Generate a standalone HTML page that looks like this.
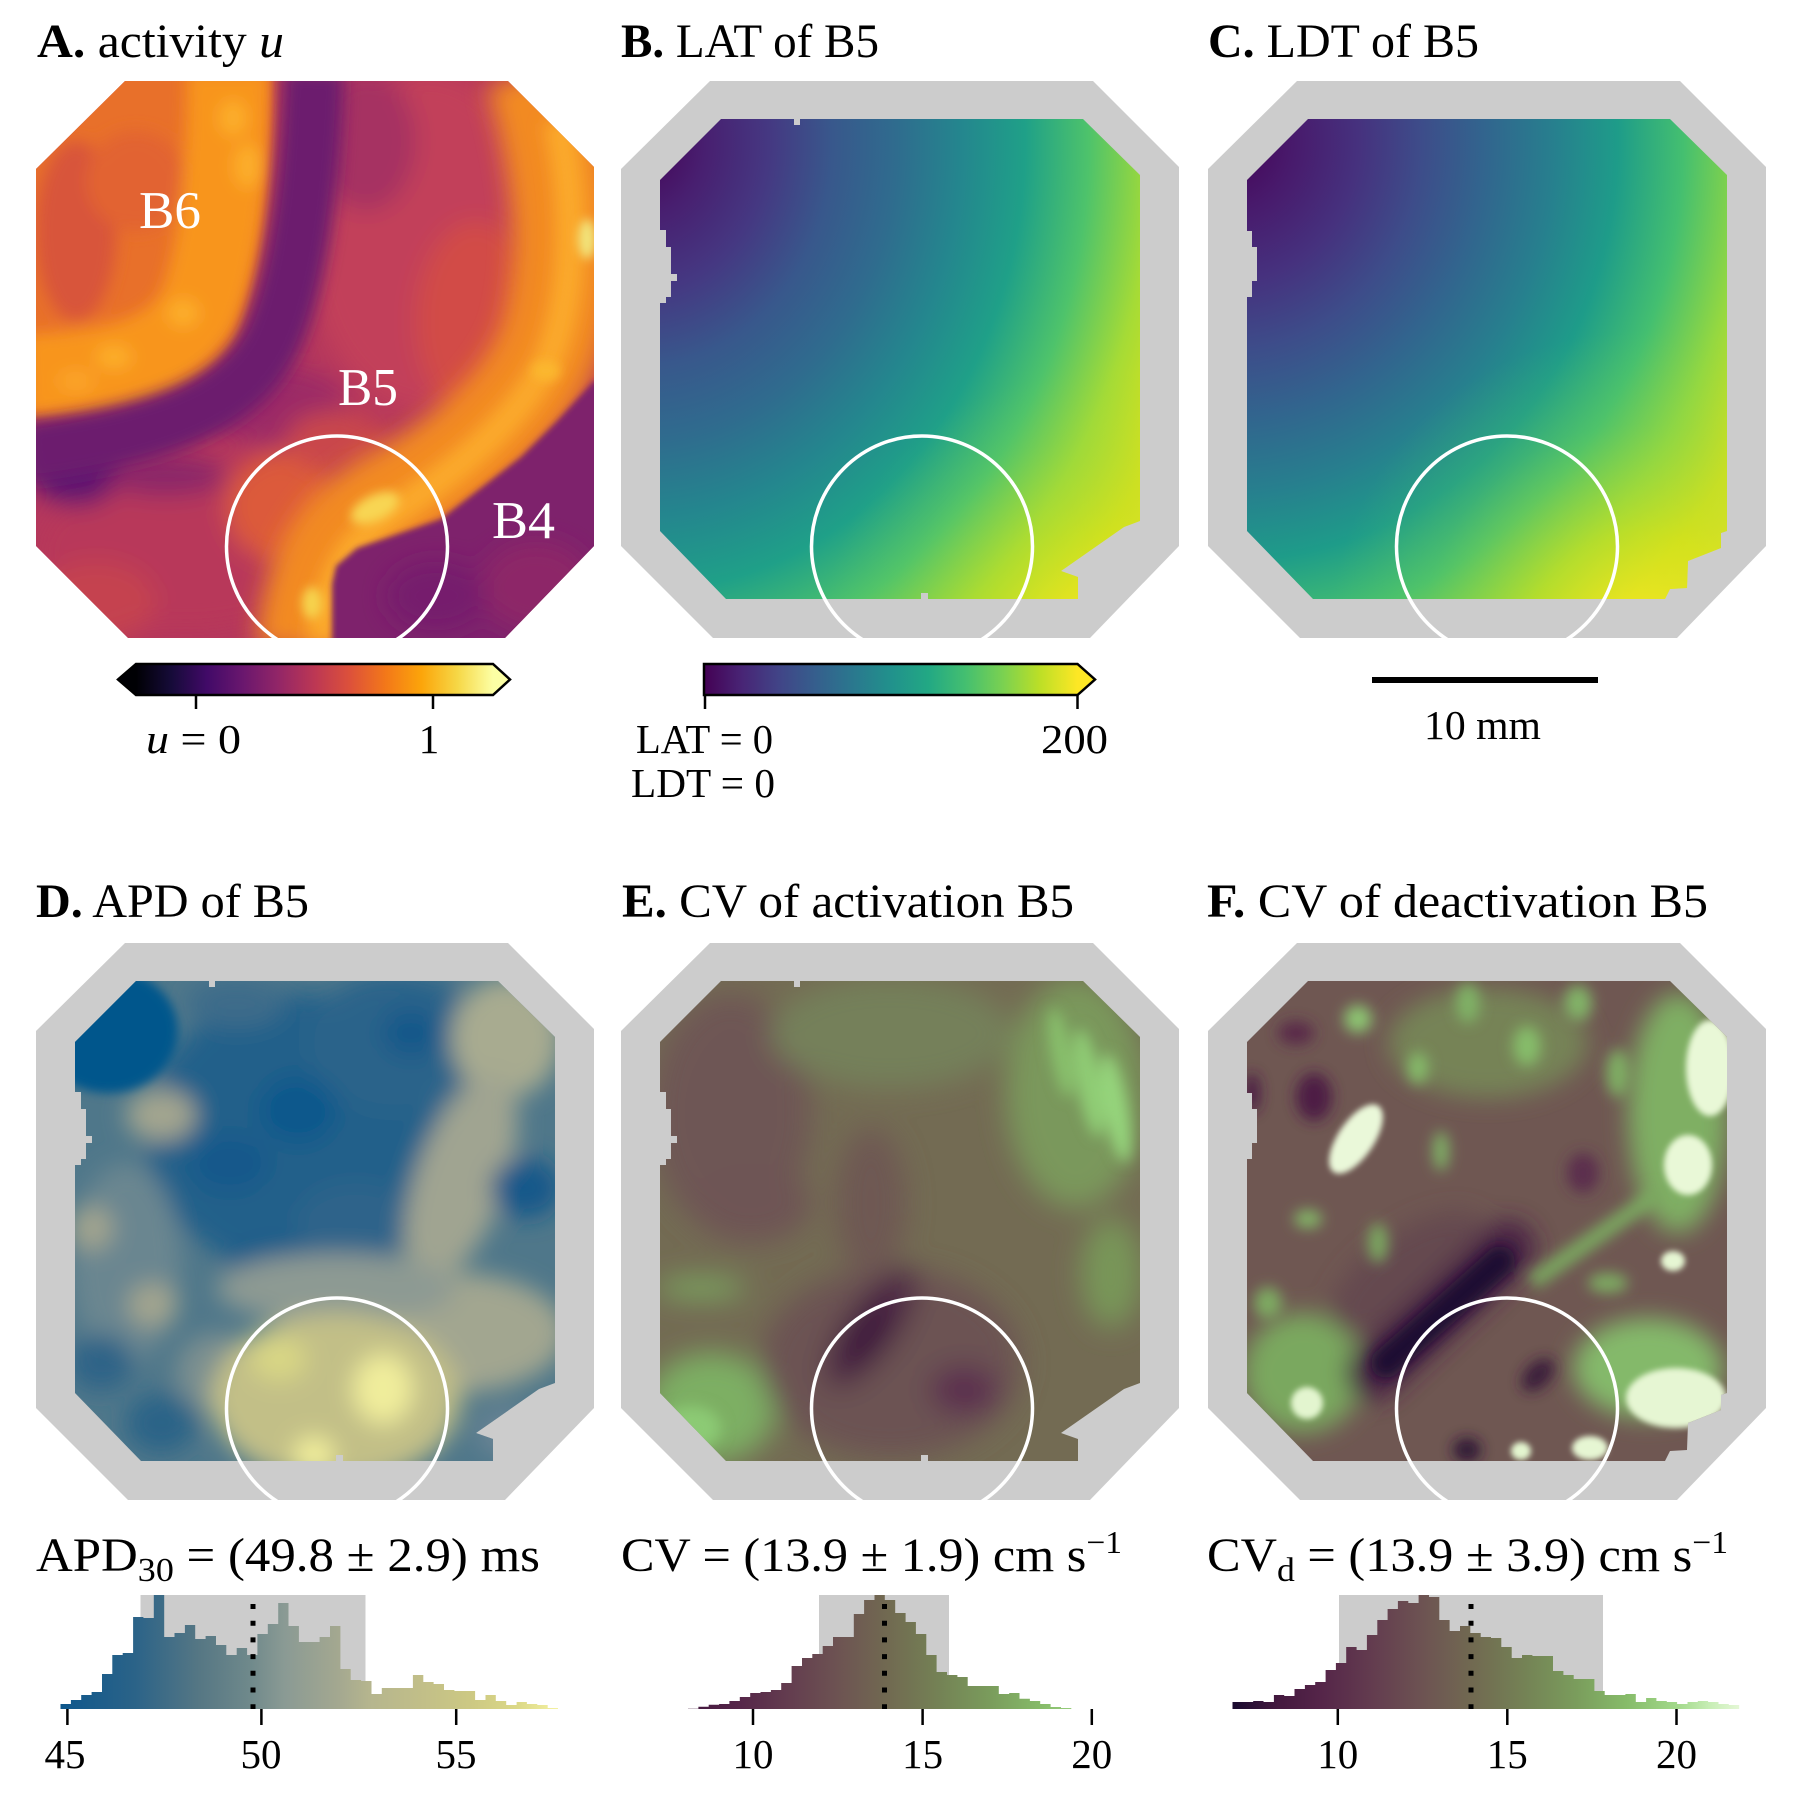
<!DOCTYPE html>
<html><head><meta charset="utf-8">
<style>html,body{margin:0;padding:0;background:#fff;}svg{display:block}</style>
</head><body>
<svg xmlns="http://www.w3.org/2000/svg" width="1800" height="1800" viewBox="0 0 1800 1800" font-family="'Liberation Serif', 'DejaVu Serif', serif">
<rect width="1800" height="1800" fill="#fff"/>
<defs>
<clipPath id="oct"><polygon points="89,0 472,0 558,86 558,465 469,557 92,557 0,465 0,88"/></clipPath>
<clipPath id="mB"><polygon points="100,38 173,38 173,44 179,44 179,38 462,38 519,94 519,440 503,446 440,490 457,496 457,518 307,518 307,512 300,512 300,518 105,518 39,450 39,222 45,222 45,216 50,216 50,200 56,200 56,193 50,193 50,166 45,166 45,149 39,149 39,99"/></clipPath>
<clipPath id="mC"><polygon points="100,38 462,38 519,94 519,450 513,452 513,467 480,480 479,507 462,508 457,518 105,518 39,450 39,216 44,216 44,200 49,200 49,166 44,166 44,150 39,150 39,99"/></clipPath>
<clipPath id="pr"><rect x="0" y="0" width="558" height="557"/></clipPath>
<filter id="f3" filterUnits="userSpaceOnUse" x="-80" y="-80" width="720" height="720"><feGaussianBlur stdDeviation="3"/></filter>
<filter id="f5" filterUnits="userSpaceOnUse" x="-80" y="-80" width="720" height="720"><feGaussianBlur stdDeviation="5"/></filter>
<filter id="f7" filterUnits="userSpaceOnUse" x="-80" y="-80" width="720" height="720"><feGaussianBlur stdDeviation="7"/></filter>
<filter id="f8" filterUnits="userSpaceOnUse" x="-80" y="-80" width="720" height="720"><feGaussianBlur stdDeviation="8"/></filter>
<filter id="f12" filterUnits="userSpaceOnUse" x="-80" y="-80" width="720" height="720"><feGaussianBlur stdDeviation="12"/></filter>
<filter id="f14" filterUnits="userSpaceOnUse" x="-80" y="-80" width="720" height="720"><feGaussianBlur stdDeviation="14"/></filter>
<radialGradient id="gB" gradientUnits="userSpaceOnUse" cx="0" cy="0" r="1" gradientTransform="translate(20 60) scale(640 750)">
<stop offset="0" stop-color="#440154"/><stop offset="0.1" stop-color="#481f70"/><stop offset="0.2" stop-color="#453882"/><stop offset="0.3" stop-color="#38588c"/><stop offset="0.4" stop-color="#2f6c8e"/><stop offset="0.5" stop-color="#24868e"/><stop offset="0.6" stop-color="#1fa088"/><stop offset="0.7" stop-color="#4ec36b"/><stop offset="0.8" stop-color="#a5db36"/><stop offset="0.9" stop-color="#dfe318"/><stop offset="1" stop-color="#fde725"/>
</radialGradient>
<radialGradient id="oB" gradientUnits="userSpaceOnUse" cx="470" cy="560" r="270">
<stop offset="0" stop-color="#fde725" stop-opacity="0.75"/><stop offset="0.4" stop-color="#bddf26" stop-opacity="0.42"/><stop offset="0.75" stop-color="#7ad151" stop-opacity="0.12"/><stop offset="1" stop-color="#7ad151" stop-opacity="0"/>
</radialGradient>
<radialGradient id="gC" gradientUnits="userSpaceOnUse" cx="0" cy="0" r="1" gradientTransform="translate(20 60) scale(650 700)">
<stop offset="0" stop-color="#440154"/><stop offset="0.1" stop-color="#481a6c"/><stop offset="0.2" stop-color="#46317e"/><stop offset="0.3" stop-color="#3d4d8a"/><stop offset="0.4" stop-color="#31668e"/><stop offset="0.5" stop-color="#277f8e"/><stop offset="0.6" stop-color="#1e9c89"/><stop offset="0.7" stop-color="#44bf70"/><stop offset="0.8" stop-color="#95d840"/><stop offset="0.9" stop-color="#dfe318"/><stop offset="1" stop-color="#fde725"/>
</radialGradient>
<radialGradient id="oC" gradientUnits="userSpaceOnUse" cx="430" cy="560" r="310">
<stop offset="0" stop-color="#fde725" stop-opacity="0.88"/><stop offset="0.35" stop-color="#c8e020" stop-opacity="0.58"/><stop offset="0.7" stop-color="#7ad151" stop-opacity="0.2"/><stop offset="1" stop-color="#7ad151" stop-opacity="0"/>
</radialGradient>
<linearGradient id="inf" gradientUnits="userSpaceOnUse" x1="136" y1="0" x2="493" y2="0">
<stop offset="0" stop-color="#000004"/><stop offset="0.1" stop-color="#160b39"/><stop offset="0.2" stop-color="#420a68"/><stop offset="0.3" stop-color="#6a176e"/><stop offset="0.4" stop-color="#932667"/><stop offset="0.5" stop-color="#bc3754"/><stop offset="0.6" stop-color="#dd513a"/><stop offset="0.7" stop-color="#f37819"/><stop offset="0.8" stop-color="#fca50a"/><stop offset="0.9" stop-color="#f6d746"/><stop offset="1" stop-color="#fcffa4"/>
</linearGradient>
<linearGradient id="vir" gradientUnits="userSpaceOnUse" x1="704" y1="0" x2="1077.5" y2="0">
<stop offset="0" stop-color="#440154"/><stop offset="0.1" stop-color="#482475"/><stop offset="0.2" stop-color="#414487"/><stop offset="0.3" stop-color="#355f8d"/><stop offset="0.4" stop-color="#2a788e"/><stop offset="0.5" stop-color="#21918c"/><stop offset="0.6" stop-color="#22a884"/><stop offset="0.7" stop-color="#44bf70"/><stop offset="0.8" stop-color="#7ad151"/><stop offset="0.9" stop-color="#bddf26"/><stop offset="1" stop-color="#fde725"/>
</linearGradient>
<linearGradient id="hA" gradientUnits="userSpaceOnUse" x1="60.5" y1="0" x2="558" y2="0">
<stop offset="0" stop-color="#0e578c"/><stop offset="0.15" stop-color="#2b6388"/><stop offset="0.28" stop-color="#567784"/><stop offset="0.38" stop-color="#6f898b"/><stop offset="0.45" stop-color="#8a9a94"/><stop offset="0.56" stop-color="#a4a890"/><stop offset="0.62" stop-color="#b5b58e"/><stop offset="0.73" stop-color="#c2bf88"/><stop offset="0.83" stop-color="#cdc983"/><stop offset="0.92" stop-color="#dcd987"/><stop offset="1" stop-color="#f4f1a2"/>
</linearGradient>
<linearGradient id="hE" gradientUnits="userSpaceOnUse" x1="651.4" y1="0" x2="1159.6" y2="0">
<stop offset="0" stop-color="#1c0b30"/><stop offset="0.083" stop-color="#44193f"/><stop offset="0.167" stop-color="#552549"/><stop offset="0.267" stop-color="#633c4f"/><stop offset="0.367" stop-color="#6d5352"/><stop offset="0.467" stop-color="#716a51"/><stop offset="0.567" stop-color="#748255"/><stop offset="0.667" stop-color="#7a9c5c"/><stop offset="0.767" stop-color="#86bb69"/><stop offset="0.867" stop-color="#a2d98a"/><stop offset="0.933" stop-color="#c8eeb6"/><stop offset="1" stop-color="#eaf9dc"/>
</linearGradient>
<linearGradient id="hF" gradientUnits="userSpaceOnUse" x1="1236.1" y1="0" x2="1744.6" y2="0">
<stop offset="0" stop-color="#1c0b30"/><stop offset="0.083" stop-color="#44193f"/><stop offset="0.167" stop-color="#552549"/><stop offset="0.267" stop-color="#633c4f"/><stop offset="0.367" stop-color="#6d5352"/><stop offset="0.467" stop-color="#716a51"/><stop offset="0.567" stop-color="#748255"/><stop offset="0.667" stop-color="#7a9c5c"/><stop offset="0.767" stop-color="#86bb69"/><stop offset="0.867" stop-color="#a2d98a"/><stop offset="0.933" stop-color="#c8eeb6"/><stop offset="1" stop-color="#eaf9dc"/>
</linearGradient>
</defs>

<!-- Titles -->
<g font-size="48" fill="#000">
<text x="37" y="57" textLength="247" lengthAdjust="spacingAndGlyphs"><tspan font-weight="bold">A.</tspan> activity <tspan font-style="italic">u</tspan></text>
<text x="621" y="57" textLength="258" lengthAdjust="spacingAndGlyphs"><tspan font-weight="bold">B.</tspan> LAT of B5</text>
<text x="1208" y="57" textLength="271" lengthAdjust="spacingAndGlyphs"><tspan font-weight="bold">C.</tspan> LDT of B5</text>
<text x="36" y="917" textLength="273" lengthAdjust="spacingAndGlyphs"><tspan font-weight="bold">D.</tspan> APD of B5</text>
<text x="622" y="917" textLength="452" lengthAdjust="spacingAndGlyphs"><tspan font-weight="bold">E.</tspan> CV of activation B5</text>
<text x="1207" y="917" textLength="501" lengthAdjust="spacingAndGlyphs"><tspan font-weight="bold">F.</tspan> CV of deactivation B5</text>
</g>

<!-- Panel A -->
<g transform="translate(36,81)">
 <g clip-path="url(#oct)">
  <rect width="558" height="557" fill="#b5375c"/>
  <g filter="url(#f12)">
   <ellipse cx="390" cy="160" rx="120" ry="170" fill="#c2405a"/>
   <ellipse cx="440" cy="240" rx="60" ry="100" fill="#d24c46"/>
   <ellipse cx="330" cy="60" rx="50" ry="70" fill="#a63062"/>
   <ellipse cx="240" cy="325" rx="70" ry="40" fill="#9c2c66"/>
   <ellipse cx="150" cy="470" rx="150" ry="80" fill="#b8395a"/>
   <ellipse cx="60" cy="520" rx="60" ry="40" fill="#c5434f"/>
   <ellipse cx="40" cy="390" rx="45" ry="35" fill="#5e1870"/>
   <ellipse cx="130" cy="395" rx="60" ry="20" fill="#8a2569"/>
   <ellipse cx="245" cy="425" rx="55" ry="55" fill="#dc5a3a"/>
   <ellipse cx="300" cy="360" rx="50" ry="30" fill="#c9464c"/>
  </g>
  <path d="M-20,-20 L236,-20 L236,0 C236,80 228,180 200,255 C175,300 120,330 -20,336 Z" fill="#e86f2b" filter="url(#f5)"/>
  <g filter="url(#f8)">
   <ellipse cx="40" cy="150" rx="40" ry="90" fill="#d8553b"/>
   <ellipse cx="100" cy="100" rx="50" ry="50" fill="#e26433"/>
   <path d="M192,-10 C192,80 186,170 162,228 C140,268 98,290 -10,294" stroke="#f8951f" stroke-width="82" fill="none"/>
   <ellipse cx="212" cy="85" rx="14" ry="22" fill="#fcae2c"/>
   <ellipse cx="197" cy="37" rx="14" ry="18" fill="#fcae2c"/>
   <ellipse cx="147" cy="232" rx="16" ry="14" fill="#fcae2c"/>
   <ellipse cx="78" cy="276" rx="18" ry="12" fill="#fcae2c"/>
   <ellipse cx="40" cy="300" rx="18" ry="10" fill="#fba52a"/>
  </g>
  <path d="M278,-10 C275,100 262,200 235,260 C205,320 140,352 -10,372" stroke="#6c1b6e" stroke-width="60" fill="none" filter="url(#f8)"/>
  <path d="M500,-10 C525,70 542,170 515,260 C490,330 420,385 355,420 C310,445 280,480 272,570" stroke="#f28a20" stroke-width="104" fill="none" filter="url(#f12)"/>
  <path d="M522,40 C542,130 537,220 512,280 C482,340 420,390 360,430 C320,455 292,490 285,560" stroke="#fba92b" stroke-width="30" fill="none" filter="url(#f8)"/>
  <polygon points="558,300 521,340 485,376 405,438 321,467 300,485 296,503 296,570 570,570 570,300" fill="#7e206c" filter="url(#f3)"/>
  <g filter="url(#f12)">
   <ellipse cx="500" cy="505" rx="55" ry="45" fill="#8d2568"/>
   <ellipse cx="400" cy="515" rx="50" ry="35" fill="#761c6d"/>
  </g>
  <g filter="url(#f5)">
   <ellipse cx="339" cy="427" rx="26" ry="13" transform="rotate(-25 339 427)" fill="#f8d653"/>
   <ellipse cx="276" cy="522" rx="10" ry="16" fill="#f6d34d"/>
   <ellipse cx="551" cy="158" rx="9" ry="20" fill="#f2e47a"/>
   <ellipse cx="510" cy="290" rx="14" ry="10" fill="#fbb72e"/>
  </g>
 </g>
 <g clip-path="url(#pr)"><circle cx="301" cy="465.5" r="110.5" fill="none" stroke="#fff" stroke-width="3.5"/></g>
</g>
<g font-size="53" fill="#fff">
<text x="139" y="228" textLength="62" lengthAdjust="spacingAndGlyphs">B6</text>
<text x="338" y="405" textLength="60" lengthAdjust="spacingAndGlyphs">B5</text>
<text x="492" y="538" textLength="63" lengthAdjust="spacingAndGlyphs">B4</text>
</g>

<!-- Panel B -->
<g transform="translate(621,81)">
 <polygon points="89,0 472,0 558,86 558,465 469,557 92,557 0,465 0,88" fill="#cccccc"/>
 <g clip-path="url(#mB)"><rect width="558" height="557" fill="url(#gB)"/><rect width="558" height="557" fill="url(#oB)"/></g>
 <g clip-path="url(#pr)"><circle cx="301" cy="465.5" r="110.5" fill="none" stroke="#fff" stroke-width="3.5"/></g>
</g>

<!-- Panel C -->
<g transform="translate(1208,81)">
 <polygon points="89,0 472,0 558,86 558,465 469,557 92,557 0,465 0,88" fill="#cccccc"/>
 <g clip-path="url(#mC)"><rect width="558" height="557" fill="url(#gC)"/><rect width="558" height="557" fill="url(#oC)"/></g>
 <g clip-path="url(#pr)"><circle cx="299" cy="465.5" r="110.5" fill="none" stroke="#fff" stroke-width="3.5"/></g>
</g>

<!-- Colorbars -->
<polygon points="136,664 136,695 118,679.5" fill="#000004"/>
<rect x="136" y="664" width="357" height="31" fill="url(#inf)"/>
<polygon points="493,664 510,679.5 493,695" fill="#fcffa4"/>
<path d="M136,664 L493,664 L510,679.5 L493,695 L136,695 L118,679.5 Z" fill="none" stroke="#000" stroke-width="2.5"/>
<line x1="196" y1="695" x2="196" y2="709" stroke="#000" stroke-width="2.5"/>
<line x1="433" y1="695" x2="433" y2="709" stroke="#000" stroke-width="2.5"/>

<rect x="704" y="664" width="373.5" height="31" fill="url(#vir)"/>
<polygon points="1077.5,664 1095,679.5 1077.5,695" fill="#fde725"/>
<path d="M704,664 L1077.5,664 L1095,679.5 L1077.5,695 L704,695 Z" fill="none" stroke="#000" stroke-width="2.5"/>
<line x1="705" y1="695" x2="705" y2="709" stroke="#000" stroke-width="2.5"/>
<line x1="1077.5" y1="695" x2="1077.5" y2="709" stroke="#000" stroke-width="2.5"/>

<rect x="1372" y="677" width="226" height="6" fill="#000"/>

<g font-size="41" fill="#000">
<text x="146" y="753" textLength="95" lengthAdjust="spacingAndGlyphs"><tspan font-style="italic">u</tspan> = 0</text>
<text x="429" y="753" text-anchor="middle">1</text>
<text x="636" y="753" textLength="137" lengthAdjust="spacingAndGlyphs">LAT = 0</text>
<text x="631" y="797" textLength="144" lengthAdjust="spacingAndGlyphs">LDT = 0</text>
<text x="1041" y="753" textLength="67" lengthAdjust="spacingAndGlyphs">200</text>
<text x="1424" y="739" textLength="117" lengthAdjust="spacingAndGlyphs">10 mm</text>
</g>

<!-- Panel D -->
<g transform="translate(36,943)">
 <polygon points="89,0 472,0 558,86 558,465 469,557 92,557 0,465 0,88" fill="#cccccc"/>
 <g clip-path="url(#mB)">
  <rect width="558" height="557" fill="#4f778a"/>
  <g filter="url(#f12)">
   <ellipse cx="260" cy="190" rx="150" ry="140" fill="#22608a"/>
   <ellipse cx="360" cy="100" rx="90" ry="70" fill="#2b638a"/>
   <ellipse cx="262" cy="167" rx="40" ry="35" fill="#0f598c"/>
   <ellipse cx="194" cy="220" rx="40" ry="30" fill="#13598b"/>
   <ellipse cx="375" cy="90" rx="30" ry="25" fill="#17598a"/>
   <ellipse cx="240" cy="320" rx="50" ry="30" fill="#1d5d89"/>
   <ellipse cx="320" cy="280" rx="60" ry="40" fill="#2d648a"/>
   <ellipse cx="200" cy="60" rx="50" ry="25" fill="#3d6c8a"/>
   <ellipse cx="125" cy="172" rx="35" ry="26" fill="#a3a58f"/>
   <ellipse cx="470" cy="95" rx="55" ry="60" fill="#a8ab90"/>
   <ellipse cx="425" cy="235" rx="45" ry="110" transform="rotate(20 425 235)" fill="#a0a491"/>
   <ellipse cx="490" cy="245" rx="35" ry="30" fill="#13588a"/>
   <ellipse cx="420" cy="390" rx="110" ry="60" fill="#a2a690"/>
   <ellipse cx="90" cy="320" rx="55" ry="100" fill="#6a8690"/>
   <ellipse cx="55" cy="285" rx="22" ry="22" fill="#a3a58f"/>
   <ellipse cx="117" cy="362" rx="25" ry="22" fill="#a3a58f"/>
   <ellipse cx="65" cy="420" rx="32" ry="28" fill="#2d6487"/>
   <ellipse cx="125" cy="480" rx="35" ry="30" fill="#2c6387"/>
   <ellipse cx="180" cy="430" rx="40" ry="40" fill="#7c8f90"/>
   <ellipse cx="300" cy="345" rx="120" ry="35" fill="#8d9a93"/>
   <ellipse cx="300" cy="455" rx="125" ry="85" fill="#c2bf87"/>
   <ellipse cx="347" cy="446" rx="30" ry="35" fill="#f0ed9b"/>
   <ellipse cx="243" cy="416" rx="28" ry="22" fill="#d8d685"/>
   <ellipse cx="278" cy="512" rx="20" ry="18" fill="#f3f09c"/>
   <ellipse cx="470" cy="490" rx="30" ry="25" fill="#6a8494"/>
  </g>
  <g filter="url(#f5)">
   <ellipse cx="72" cy="88" rx="70" ry="62" fill="#05578c"/>
  </g>
 </g>
 <g clip-path="url(#pr)"><circle cx="301" cy="465.5" r="110.5" fill="none" stroke="#fff" stroke-width="3.5"/></g>
</g>

<!-- Panel E -->
<g transform="translate(621,943)">
 <polygon points="89,0 472,0 558,86 558,465 469,557 92,557 0,465 0,88" fill="#cccccc"/>
 <g clip-path="url(#mB)">
  <rect width="558" height="557" fill="#736b53"/>
  <g filter="url(#f14)">
   <ellipse cx="110" cy="170" rx="80" ry="120" fill="#6e5754"/>
   <ellipse cx="130" cy="260" rx="60" ry="40" fill="#6e5454"/>
   <ellipse cx="270" cy="90" rx="120" ry="55" fill="#75805a"/>
   <ellipse cx="455" cy="150" rx="70" ry="115" fill="#7a985b"/>
   <ellipse cx="490" cy="330" rx="30" ry="55" fill="#789659"/>
   <ellipse cx="90" cy="465" rx="65" ry="55" fill="#7daf64"/>
   <ellipse cx="80" cy="345" rx="45" ry="10" fill="#7cab61"/>
   <ellipse cx="270" cy="420" rx="130" ry="95" fill="#6c5353"/>
   <ellipse cx="250" cy="260" rx="35" ry="75" fill="#6e5853"/>
   <ellipse cx="250" cy="385" rx="70" ry="26" transform="rotate(-55 250 385)" fill="#4d2545"/>
   <ellipse cx="245" cy="392" rx="38" ry="14" transform="rotate(-55 245 392)" fill="#3a163b"/>
   <ellipse cx="343" cy="447" rx="34" ry="24" fill="#5c2f50"/>
  </g>
  <g filter="url(#f7)">
   <ellipse cx="440" cy="110" rx="10" ry="45" transform="rotate(-10 440 110)" fill="#88c06c"/>
   <ellipse cx="468" cy="140" rx="12" ry="55" transform="rotate(-10 468 140)" fill="#8fcc74"/>
   <ellipse cx="495" cy="165" rx="12" ry="55" transform="rotate(-10 495 165)" fill="#95d47c"/>
   <ellipse cx="70" cy="485" rx="30" ry="22" fill="#8cca74"/>
  </g>
 </g>
 <g clip-path="url(#pr)"><circle cx="301" cy="465.5" r="110.5" fill="none" stroke="#fff" stroke-width="3.5"/></g>
</g>

<!-- Panel F -->
<g transform="translate(1208,943)">
 <polygon points="89,0 472,0 558,86 558,465 469,557 92,557 0,465 0,88" fill="#cccccc"/>
 <g clip-path="url(#mC)">
  <rect width="558" height="557" fill="#6f5752"/>
  <g filter="url(#f12)">
   <ellipse cx="280" cy="100" rx="100" ry="55" fill="#768356"/>
   <ellipse cx="470" cy="170" rx="50" ry="120" fill="#7faf64"/>
   <ellipse cx="95" cy="430" rx="60" ry="60" fill="#7aa85f"/>
   <ellipse cx="440" cy="425" rx="75" ry="50" fill="#84b96a"/>
   <ellipse cx="200" cy="330" rx="90" ry="40" transform="rotate(-35 200 330)" fill="#654850"/>
   <line x1="300" y1="305" x2="165" y2="430" stroke="#4a2444" stroke-width="55" stroke-linecap="round"/>
  </g>
  <g filter="url(#f7)">
   <line x1="324" y1="339" x2="452" y2="249" stroke="#7caa61" stroke-width="16"/>
   <ellipse cx="150" cy="76" rx="14" ry="14" fill="#8dc672"/>
   <ellipse cx="319" cy="103" rx="14" ry="20" fill="#86bd6b"/>
   <ellipse cx="210" cy="125" rx="10" ry="16" fill="#86bd6b"/>
   <ellipse cx="233" cy="208" rx="8" ry="20" fill="#80b266"/>
   <ellipse cx="100" cy="276" rx="14" ry="9" fill="#84b868"/>
   <ellipse cx="260" cy="60" rx="12" ry="20" fill="#80b266"/>
   <ellipse cx="370" cy="60" rx="14" ry="18" fill="#82b468"/>
   <ellipse cx="410" cy="130" rx="12" ry="24" fill="#7fae63"/>
   <ellipse cx="170" cy="300" rx="10" ry="20" fill="#7ca861"/>
   <ellipse cx="60" cy="360" rx="14" ry="16" fill="#7eab62"/>
   <ellipse cx="400" cy="340" rx="20" ry="10" fill="#7eab62"/>
   <line x1="292" y1="318" x2="178" y2="420" stroke="#1d0e31" stroke-width="30" stroke-linecap="round"/>
   <ellipse cx="330" cy="432" rx="20" ry="12" transform="rotate(-45 330 432)" fill="#3a1a3a"/>
   <ellipse cx="259" cy="507" rx="14" ry="12" fill="#2e1535"/>
   <ellipse cx="106" cy="154" rx="18" ry="24" fill="#4d1f45"/>
   <ellipse cx="88" cy="90" rx="18" ry="12" fill="#5a2a4a"/>
   <ellipse cx="44" cy="150" rx="8" ry="20" fill="#4b1e44"/>
   <ellipse cx="375" cy="230" rx="16" ry="20" fill="#5b2d4d"/>
  </g>
  <g filter="url(#f3)">
   <ellipse cx="148" cy="196" rx="18" ry="40" transform="rotate(34 148 196)" fill="#eaf8d9"/>
   <ellipse cx="502" cy="125" rx="24" ry="48" fill="#e9f8d7"/>
   <ellipse cx="480" cy="222" rx="24" ry="30" fill="#e9f8d7"/>
   <ellipse cx="465" cy="318" rx="12" ry="10" fill="#e6f6d3"/>
   <ellipse cx="468" cy="455" rx="50" ry="30" fill="#e6f6d3"/>
   <ellipse cx="382" cy="505" rx="18" ry="12" fill="#e6f6d3"/>
   <ellipse cx="99" cy="460" rx="16" ry="16" fill="#e3f5cf"/>
   <ellipse cx="313" cy="508" rx="10" ry="9" fill="#e3f5cf"/>
  </g>
 </g>
 <g clip-path="url(#pr)"><circle cx="299" cy="465.5" r="110.5" fill="none" stroke="#fff" stroke-width="3.5"/></g>
</g>

<!-- Stats text -->
<g font-size="48" fill="#000">
<text x="36" y="1571" textLength="504" lengthAdjust="spacingAndGlyphs">APD<tspan font-size="34" dy="10">30</tspan><tspan dy="-10"> = (49.8 ± 2.9) ms</tspan></text>
<text x="621" y="1571" textLength="501" lengthAdjust="spacingAndGlyphs">CV = (13.9 ± 1.9) cm s<tspan font-size="32" dy="-18">−1</tspan></text>
<text x="1207" y="1571" textLength="521" lengthAdjust="spacingAndGlyphs">CV<tspan font-size="34" dy="10">d</tspan><tspan dy="-10"> = (13.9 ± 3.9) cm s</tspan><tspan font-size="32" dy="-18">−1</tspan></text>
</g>

<!-- Histogram A -->
<rect x="140.5" y="1595" width="225" height="114" fill="#cccccc"/>
<path fill="url(#hA)" d="M60.5,1709 V1704 H70.9 V1700 H81.2 V1695 H91.6 V1692 H102 V1674 H112.3 V1655 H122.7 V1653 H133.1 V1617 H143.4 V1618 H153.8 V1595 H164.2 V1637 H174.5 V1633 H184.9 V1625 H195.2 V1639 H205.6 V1636 H216 V1645 H226.3 V1655 H236.7 V1648 H247.1 V1655 H257.4 V1634 H267.8 V1624 H278.2 V1603 H288.5 V1626 H298.9 V1642 H309.3 V1642 H319.6 V1637 H330 V1626 H340.4 V1669 H350.7 V1680 H361.1 V1681 H371.5 V1694 H381.8 V1688 H392.2 V1688 H402.5 V1688 H412.9 V1675 H423.3 V1682 H433.6 V1684 H444 V1690 H454.4 V1691 H464.7 V1691 H475.1 V1700 H485.5 V1695 H495.8 V1701 H506.2 V1705 H516.6 V1702 H526.9 V1704 H537.3 V1705 H547.7 V1708 H558 V1709 Z"/>
<line x1="253" y1="1604" x2="253" y2="1709" stroke="#000" stroke-width="5" stroke-dasharray="5 11.7"/>
<g stroke="#000" stroke-width="2.5">
<line x1="67.4" y1="1709" x2="67.4" y2="1725"/><line x1="261.4" y1="1709" x2="261.4" y2="1725"/><line x1="456.2" y1="1709" x2="456.2" y2="1725"/>
</g>

<!-- Histogram E -->
<rect x="819" y="1595" width="130" height="114" fill="#cccccc"/>
<path fill="url(#hE)" d="M688,1709 V1708.7 H698.4 V1706.7 H708.7 V1704.7 H719.1 V1704 H729.4 V1701 H739.8 V1697 H750.2 V1693 H760.5 V1692 H770.9 V1690 H781.2 V1683 H791.6 V1666 H802 V1658 H812.3 V1654 H822.7 V1646 H833 V1637 H843.4 V1637 H853.8 V1614 H864.1 V1600 H874.5 V1595 H884.8 V1600 H895.2 V1613 H905.6 V1622 H915.9 V1634 H926.3 V1655 H936.6 V1672 H947 V1675 H957.4 V1677 H967.7 V1686 H978.1 V1686 H988.4 V1686 H998.8 V1694 H1009.2 V1693 H1019.5 V1698.7 H1029.9 V1701 H1040.2 V1704 H1050.6 V1707 H1061 V1708 H1071.3 V1709 H1081.7 V1709 Z"/>
<line x1="884.5" y1="1604" x2="884.5" y2="1709" stroke="#000" stroke-width="5" stroke-dasharray="5 11.7"/>
<g stroke="#000" stroke-width="2.5">
<line x1="753" y1="1709" x2="753" y2="1725"/><line x1="922.6" y1="1709" x2="922.6" y2="1725"/><line x1="1091.8" y1="1709" x2="1091.8" y2="1725"/>
</g>

<!-- Histogram F -->
<rect x="1339" y="1595" width="264" height="114" fill="#cccccc"/>
<path fill="url(#hF)" d="M1232.5,1709 V1702 H1242.8 V1702 H1253.2 V1701 H1263.5 V1702 H1273.9 V1695 H1284.2 V1696 H1294.5 V1689 H1304.9 V1685 H1315.2 V1682 H1325.6 V1670 H1335.9 V1663 H1346.2 V1647 H1356.6 V1650 H1366.9 V1635 H1377.3 V1620 H1387.6 V1609 H1397.9 V1601 H1408.3 V1603 H1418.6 V1595 H1429 V1597 H1439.3 V1620 H1449.6 V1631 H1460 V1626 H1470.3 V1633 H1480.7 V1637 H1491 V1638 H1501.3 V1647 H1511.7 V1658 H1522 V1655 H1532.4 V1656 H1542.7 V1656 H1553 V1671 H1563.4 V1675 H1573.7 V1679 H1584.1 V1679 H1594.4 V1691 H1604.7 V1695 H1615.1 V1695 H1625.4 V1694 H1635.8 V1702 H1646.1 V1698 H1656.4 V1701 H1666.8 V1702 H1677.1 V1704 H1687.5 V1702 H1697.8 V1701 H1708.1 V1702 H1718.5 V1704 H1728.8 V1705 H1739.2 V1709 Z"/>
<line x1="1471" y1="1604" x2="1471" y2="1709" stroke="#000" stroke-width="5" stroke-dasharray="5 11.7"/>
<g stroke="#000" stroke-width="2.5">
<line x1="1337.8" y1="1709" x2="1337.8" y2="1725"/><line x1="1507.3" y1="1709" x2="1507.3" y2="1725"/><line x1="1676.5" y1="1709" x2="1676.5" y2="1725"/>
</g>

<!-- Histogram tick labels -->
<g font-size="41" fill="#000" text-anchor="middle">
<text x="65" y="1768">45</text><text x="261" y="1768">50</text><text x="456" y="1768">55</text>
<text x="753" y="1768">10</text><text x="922.6" y="1768">15</text><text x="1091.8" y="1768">20</text>
<text x="1337.8" y="1768">10</text><text x="1507.3" y="1768">15</text><text x="1676.5" y="1768">20</text>
</g>
</svg>
</body></html>
